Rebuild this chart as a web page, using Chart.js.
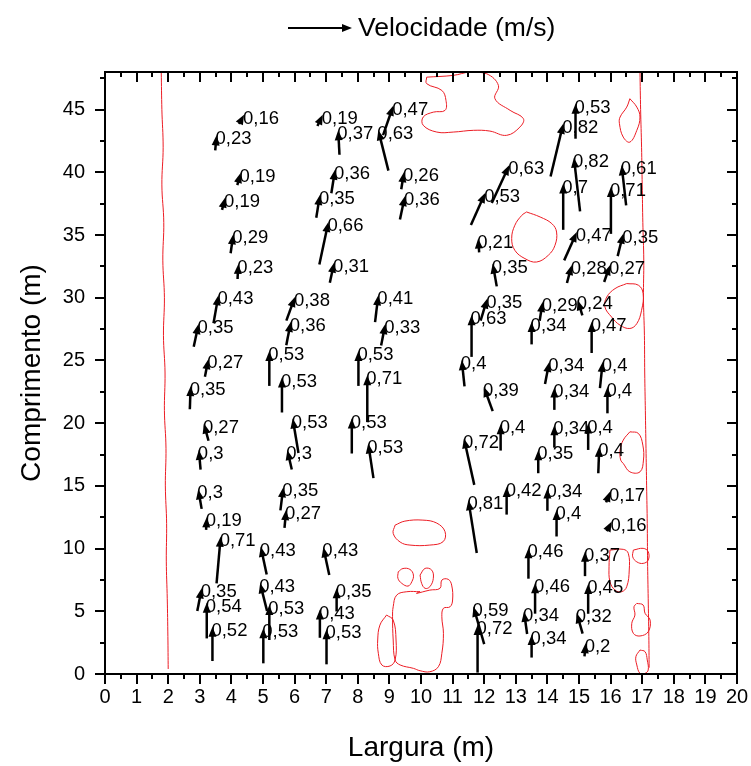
<!DOCTYPE html>
<html>
<head>
<meta charset="utf-8">
<script src="https://cdn.jsdelivr.net/npm/chart.js@4.4.1/dist/chart.umd.min.js"></script>
<style>
  html, body { margin: 0; padding: 0; background: #fff; }
  #c { display: block; }
</style>
</head>
<body>
<canvas id="c" width="751" height="766"></canvas>
<script>
// ---- Velocity vectors: arrow head position (m), direction (deg, clockwise from +y), speed (m/s)
const vecX = [4.40, 3.53, 6.89, 7.38, 8.65, 9.12, 4.29, 3.80, 7.28, 6.80, 4.06, 7.07, 9.46, 9.49, 4.22, 7.25,
  3.59, 2.96, 6.01, 5.88, 8.65, 8.87, 3.27, 2.71, 5.20, 5.60, 8.02, 8.30, 3.13, 2.97, 5.94, 5.77, 7.81, 8.33,
  2.95, 3.22, 3.66, 3.06, 3.22, 3.40, 4.93, 6.91, 4.91, 5.20, 5.01, 7.33, 6.80, 7.01, 5.64, 5.73,
  14.89, 14.50, 12.79, 12.03, 14.84, 14.50, 16.35, 16.01, 11.81, 14.93, 16.40, 12.27, 14.77, 15.98,
  12.10, 11.60, 13.85, 14.96, 13.50, 15.40, 11.29, 14.06, 15.75, 11.99, 14.22, 15.90, 12.52, 11.36,
  14.22, 15.29, 13.71, 15.64, 11.50, 12.71, 14.00, 14.29, 15.98, 16.03, 13.40, 15.19, 13.61, 15.29,
  11.66, 11.79, 13.26, 13.50, 14.93, 15.21];
const vecY = [44.60, 42.95, 44.60, 43.35, 43.35, 45.30, 39.95, 37.98, 40.20, 38.20, 35.06, 36.04, 40.00, 38.10, 32.70, 32.80,
  30.20, 27.90, 30.06, 28.07, 30.20, 27.90, 25.10, 22.95, 25.76, 23.64, 25.76, 23.82, 19.97, 17.86, 20.37, 17.85, 20.37, 18.38,
  14.72, 12.49, 10.94, 6.83, 5.68, 3.77, 10.14, 10.10, 7.23, 5.50, 3.64, 6.83, 5.15, 3.56, 14.88, 13.07,
  45.47, 43.87, 40.56, 38.35, 41.17, 39.10, 40.56, 38.83, 34.72, 35.24, 35.11, 32.72, 32.60, 32.60,
  29.94, 28.60, 29.67, 29.80, 28.07, 28.07, 25.02, 24.88, 24.88, 22.89, 22.85, 22.89, 19.92, 18.78,
  19.84, 19.97, 17.85, 18.11, 13.86, 14.92, 14.80, 13.07, 14.53, 12.14, 10.02, 9.75, 7.23, 7.17,
  5.36, 3.90, 4.96, 3.10, 4.84, 2.45];
const vecAngle = [28, 5, 25, -3, -14, 19, 15, 14, 9, 9, 8, 12, 9, 12, 3, 12,
  10, 12, 20, 11, 7, 11, 11, 2, 0, 0, 0, 0, -15, -5, -9.5, -13, 0, -8.6,
  -10, 3, 5, 11, 0, 0, -12, -12, -14, 0, 0, 0, 0, 0, 7, 5,
  0, 13.5, 24.7, 24, -6.5, 0, -6.4, 0, -4, 24, 14, -10, 15, 19,
  17, 0, 9, -17, 0, 0, -6, 11, 6, -20, 0, 0, 0, -12.5,
  0, 0, 0, 2, -9, 0, 0, 0, 20, 27, 0, 0, 0, 0,
  -16, 0, -8, 0, -16, 5];
const vecSpeed = [0.16, 0.23, 0.19, 0.37, 0.63, 0.47, 0.19, 0.19, 0.36, 0.35, 0.29, 0.66, 0.26, 0.36, 0.23, 0.31,
  0.43, 0.35, 0.38, 0.36, 0.41, 0.33, 0.27, 0.35, 0.53, 0.53, 0.53, 0.71, 0.27, 0.3, 0.53, 0.3, 0.53, 0.53,
  0.3, 0.19, 0.71, 0.35, 0.54, 0.52, 0.43, 0.43, 0.43, 0.53, 0.53, 0.35, 0.43, 0.53, 0.35, 0.27,
  0.53, 0.82, 0.63, 0.53, 0.82, 0.7, 0.61, 0.71, 0.21, 0.47, 0.35, 0.35, 0.28, 0.27,
  0.35, 0.63, 0.29, 0.24, 0.34, 0.47, 0.4, 0.34, 0.4, 0.39, 0.34, 0.4, 0.4, 0.72,
  0.34, 0.4, 0.35, 0.4, 0.81, 0.42, 0.34, 0.4, 0.17, 0.16, 0.46, 0.37, 0.46, 0.45,
  0.59, 0.72, 0.34, 0.34, 0.32, 0.2];

// ---- Red contour lines (m)
const westBank = [[1.78,48],[1.80,45],[1.84,42],[1.80,39],[1.86,36],[1.83,33],[1.88,30],[1.85,27],[1.90,24],
  [1.88,21],[1.93,18],[1.91,15],[1.95,12],[1.94,9],[1.97,6],[1.99,3],[2.00,0.4]];
const eastBank = [[16.93,48],[16.95,45],[16.98,42],[17.00,39],[17.02,36],[17.05,33],[17.04,30],[17.07,27],[17.08,24],
  [17.10,21],[17.12,18],[17.14,15],[17.16,12],[17.17,9],[17.19,6],[17.21,3],[17.22,0.5]];
const islandTop = [[10.18,47.59],[11.02,47.73],[11.55,47.99],[12.08,47.86],[12.45,46.93],[12.34,45.87],[12.82,44.94],
  [13.24,44.28],[13.13,43.61],[12.71,42.95],[12.18,43.29],[11.66,43.35],[11.02,43.21],[10.50,43.21],[10.07,43.75],
  [10.07,44.41],[10.39,44.80],[10.76,44.94],[10.79,45.74],[10.66,46.53],[10.18,47.07],[10.18,47.59]];
const islandNE = [[16.61,45.87],[16.83,45.20],[16.93,44.41],[16.83,43.35],[16.61,42.41],[16.40,42.81],[16.28,43.88],
  [16.30,44.41],[16.51,45.20],[16.61,45.87]];
const islandMid = [[13.34,36.84],[13.77,36.44],[14.14,35.91],[14.29,35.24],[14.24,34.18],[14.03,33.39],[13.66,32.85],
  [13.29,33.12],[12.97,33.78],[12.87,34.72],[12.97,35.78],[13.19,36.57],[13.34,36.84]];
const islandE30 = [[16.51,31.13],[16.88,31.00],[17.03,30.33],[16.98,29.00],[16.83,27.94],[16.61,27.55],[16.30,27.81],
  [16.03,28.47],[15.82,29.27],[15.88,30.06],[16.14,30.73],[16.51,31.13]];
const islandE18 = [[16.61,19.31],[16.88,19.18],[17.02,18.25],[17.04,17.06],[16.93,16.12],[16.61,16.12],[16.40,16.79],
  [16.32,17.05],[16.30,17.85],[16.40,18.65],[16.61,19.31]];
const islandC11 = [[9.18,11.87],[9.49,12.19],[10.06,12.27],[10.50,12.03],[10.76,11.35],[10.70,10.55],[10.28,10.28],
  [9.65,10.28],[9.34,10.52],[9.12,11.21],[9.18,11.87]];
const shoalMain = [[9.97,6.56],[9.55,6.56],[9.23,6.29],[9.12,5.36],[9.10,4.57],[9.12,2.71],[9.18,1.12],[9.34,0.72],
  [9.76,0.45],[9.97,0.26],[10.28,0.18],[10.55,0.58],[10.66,1.65],[10.71,3.24],[10.66,4.57],[10.71,5.24],[10.92,5.36],
  [11.00,5.90],[10.97,7.09],[10.86,7.55],[10.66,7.49],[10.60,6.83],[10.28,6.69],[9.86,6.43],[9.97,6.56]];
const shoalBump = [[9.28,8.15],[9.43,8.41],[9.65,8.34],[9.76,7.89],[9.71,7.36],[9.59,7.01],[9.39,7.23],[9.27,7.63],[9.28,8.15]];
const shoalLoop = [[9.97,7.89],[10.13,8.42],[10.34,8.28],[10.39,7.63],[10.28,6.96],[10.13,6.83],[10.02,7.23],[9.97,7.89]];
const shoalWest = [[8.91,4.70],[9.12,4.30],[9.21,2.71],[9.18,1.12],[9.02,0.64],[8.76,0.72],[8.65,1.65],[8.63,2.71],
  [8.70,3.90],[8.91,4.70]];
const islandE8 = [[15.98,9.88],[16.40,9.94],[16.56,9.62],[16.59,8.29],[16.51,6.96],[16.35,6.56],[16.14,6.69],
  [15.98,7.36],[15.95,8.55],[15.98,9.88]];
const islandE9 = [[16.72,9.88],[17.03,10.02],[17.19,9.75],[17.19,9.08],[17.03,8.82],[16.83,8.94],[16.70,9.34],[16.72,9.88]];
const islandE4 = [[16.83,5.63],[17.03,5.50],[17.09,4.84],[17.25,4.30],[17.19,3.37],[16.93,3.03],[16.72,3.24],
  [16.67,4.04],[16.77,4.70],[16.74,5.36],[16.83,5.63]];
const islandE1 = [[16.93,1.91],[17.09,1.78],[17.16,1.12],[17.19,0.32],[17.09,0.05],[16.93,0.05],[16.83,0.72],
  [16.80,1.38],[16.93,1.91]];

const contours = [westBank, eastBank, islandTop, islandNE, islandMid, islandE30, islandE18, islandC11,
  shoalMain, shoalBump, shoalLoop, shoalWest, islandE8, islandE9, islandE4, islandE1];

// ---- Axes
const X_MIN = 0, X_MAX = 20, X_MAJOR = 1, X_MINOR = 0.5;
const Y_MIN = 0, Y_MAX = 48, Y_MAJOR = 5, Y_MINOR = 2.5;

const FONT = "'Liberation Sans', Arial, Helvetica, sans-serif";
const PX_PER_MS = 66;      // arrow length scale
const HEAD_LEN = 10, HEAD_HALF = 4, SHAFT_W = 2.5;

function fmtSpeed(v) { return String(v).replace('.', ','); }

function drawArrow(ctx, tx, ty, hx, hy) {
  const dx = hx - tx, dy = hy - ty;
  const len = Math.hypot(dx, dy) || 1;
  const ux = dx / len, uy = dy / len;
  const bx = hx - ux * HEAD_LEN, by = hy - uy * HEAD_LEN;
  if (len > HEAD_LEN * 0.8) {
    ctx.beginPath();
    ctx.moveTo(tx, ty);
    ctx.lineTo(hx - ux * HEAD_LEN * 0.7, hy - uy * HEAD_LEN * 0.7);
    ctx.stroke();
  }
  ctx.beginPath();
  ctx.moveTo(hx, hy);
  ctx.lineTo(bx - uy * HEAD_HALF, by + ux * HEAD_HALF);
  ctx.lineTo(bx + uy * HEAD_HALF, by - ux * HEAD_HALF);
  ctx.closePath();
  ctx.fill();
}

// arrows + speed labels on the vector dataset
const vectorPlugin = {
  id: 'vectorPlugin',
  afterDatasetsDraw(chart) {
    const ctx = chart.ctx;
    const meta = chart.getDatasetMeta(0);
    ctx.save();
    ctx.strokeStyle = '#000';
    ctx.fillStyle = '#000';
    ctx.lineWidth = SHAFT_W;
    ctx.lineCap = 'butt';
    meta.data.forEach((pt, i) => {
      const a = vecAngle[i] * Math.PI / 180;
      const L = vecSpeed[i] * PX_PER_MS;
      const hx = pt.x, hy = pt.y;
      const tx = hx - L * Math.sin(a), ty = hy + L * Math.cos(a);
      drawArrow(ctx, tx, ty, hx, hy);
    });
    ctx.font = '18.5px ' + FONT;
    ctx.textAlign = 'left';
    ctx.textBaseline = 'middle';
    meta.data.forEach((pt, i) => {
      ctx.fillText(fmtSpeed(vecSpeed[i]), pt.x - 1, pt.y + 4);
    });
    ctx.restore();
  }
};

// frame, mirrored ticks, minor ticks, legend key
const framePlugin = {
  id: 'framePlugin',
  afterDraw(chart) {
    const {ctx, chartArea: a} = chart;
    const xs = chart.scales.x, ys = chart.scales.y;
    ctx.save();
    ctx.strokeStyle = '#000';
    ctx.lineWidth = 2;
    ctx.strokeRect(a.left, a.top, a.right - a.left, a.bottom - a.top);
    ctx.beginPath();
    for (let v = X_MIN; v <= X_MAX + 1e-9; v += X_MINOR) {
      const p = Math.round(xs.getPixelForValue(v));
      const major = Math.abs(v / X_MAJOR - Math.round(v / X_MAJOR)) < 1e-6;
      const L = major ? 10 : 5;
      ctx.moveTo(p, a.bottom); ctx.lineTo(p, a.bottom + L);
      ctx.moveTo(p, a.top); ctx.lineTo(p, a.top + L);
    }
    for (let v = Y_MIN; v <= Y_MAX + 1e-9; v += Y_MINOR) {
      const p = Math.round(ys.getPixelForValue(v));
      const major = Math.abs(v / Y_MAJOR - Math.round(v / Y_MAJOR)) < 1e-6;
      const L = major ? 10 : 5;
      ctx.moveTo(a.left, p); ctx.lineTo(a.left - L, p);
      ctx.moveTo(a.right, p); ctx.lineTo(a.right - L, p);
    }
    ctx.stroke();

    // legend key
    const ky = 28;
    ctx.lineWidth = 2.2;
    drawArrow(ctx, 288, ky, 352, ky);
    ctx.font = '26.5px ' + FONT;
    ctx.textAlign = 'left';
    ctx.textBaseline = 'middle';
    ctx.fillText('Velocidade (m/s)', 358, ky + 1);
    ctx.restore();
  }
};

const datasets = [{
  label: 'Velocidade (m/s)',
  data: vecX.map((x, i) => ({x, y: vecY[i]})),
  pointRadius: 0,
  showLine: false
}];
contours.forEach(c => datasets.push({
  data: c.map(p => ({x: p[0], y: p[1]})),
  showLine: true,
  pointRadius: 0,
  borderColor: 'rgb(236,28,36)',
  borderWidth: 1,
  tension: 0.4,
  fill: false
}));

new Chart(document.getElementById('c'), {
  type: 'scatter',
  data: { datasets },
  options: {
    responsive: false,
    animation: false,
    events: [],
    layout: { padding: { top: 72, right: 14, left: 0, bottom: 0 } },
    plugins: { legend: { display: false }, tooltip: { enabled: false } },
    scales: {
      x: {
        type: 'linear', min: X_MIN, max: X_MAX,
        afterFit(s) { s.height = 92; s.paddingLeft = 0; s.paddingRight = 0; },
        grid: { display: false, drawTicks: false },
        border: { display: false },
        ticks: { stepSize: X_MAJOR, autoSkip: false, maxRotation: 0, includeBounds: false,
          padding: 11, color: '#000', font: { family: FONT, size: 20 } },
        title: { display: true, text: 'Largura (m)', color: '#000',
          font: { family: FONT, size: 28 }, padding: { top: 0, bottom: 1 } }
      },
      y: {
        type: 'linear', min: Y_MIN, max: Y_MAX,
        afterFit(s) { s.width = 105; s.paddingTop = 0; s.paddingBottom = 0; },
        grid: { display: false, drawTicks: false },
        border: { display: false },
        ticks: { stepSize: Y_MAJOR, includeBounds: false, padding: 20, color: '#000',
          font: { family: FONT, size: 20 } },
        title: { display: true, text: 'Comprimento (m)', color: '#000',
          font: { family: FONT, size: 28 }, padding: { top: 15, bottom: 0 } }
      }
    }
  },
  plugins: [vectorPlugin, framePlugin]
});
</script>
</body>
</html>
